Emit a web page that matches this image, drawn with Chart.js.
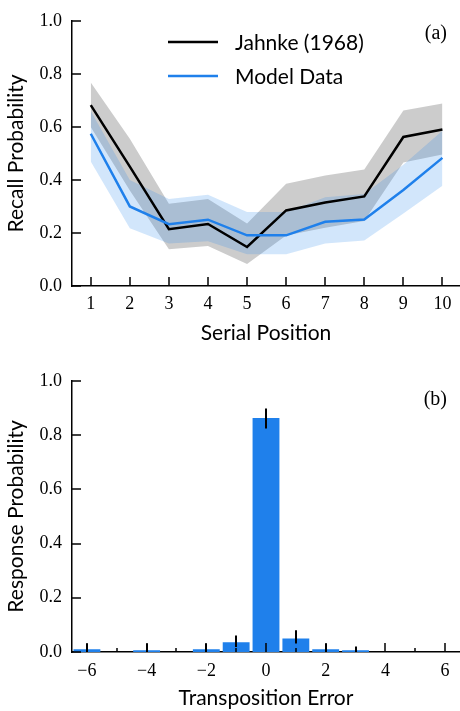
<!DOCTYPE html>
<html><head><meta charset="utf-8">
<script src="https://cdn.jsdelivr.net/npm/chart.js@4.4.0/dist/chart.umd.min.js"></script>
<style>
html,body{margin:0;padding:0;background:#fff;width:460px;height:711px;overflow:hidden;}
.box{position:absolute;left:0;width:460px;}
canvas{display:block;}
</style></head><body>
<div class="box" style="top:0;height:350px"><canvas id="c1" width="460" height="350"></canvas></div>
<div class="box" style="top:360px;height:351px"><canvas id="c2" width="460" height="351"></canvas></div>
<script>
// ---- Panel (a) data ----
const serialPositions = [1,2,3,4,5,6,7,8,9,10];
const jahnkeMean  = [0.682,0.450,0.214,0.234,0.147,0.285,0.315,0.338,0.562,0.590];
const jahnkeUpper = [0.767,0.555,0.310,0.328,0.236,0.386,0.417,0.439,0.662,0.688];
const jahnkeLower = [0.600,0.360,0.139,0.151,0.083,0.190,0.220,0.245,0.466,0.496];
const modelMean   = [0.574,0.300,0.233,0.250,0.191,0.191,0.242,0.251,0.362,0.483];
const modelUpper  = [0.660,0.400,0.328,0.344,0.279,0.279,0.335,0.347,0.457,0.585];
const modelLower  = [0.469,0.218,0.160,0.169,0.120,0.120,0.160,0.172,0.273,0.378];
const probTicks   = [0,0.2,0.4,0.6,0.8,1.0];
const legendLabels = ['Jahnke (1968)','Model Data'];

// ---- Panel (b) data ----
const transpositionErrors = [-6,-5,-4,-3,-2,-1,0,1,2,3,4,5,6];
const responseProb = [0.010,0,0.006,0,0.010,0.036,0.863,0.050,0.010,0.006,0,0,0];
const errLow       = [0,0,0,0,0,0.018,0.824,0.031,0,0,0,0,0];
const errHigh      = [0.030,0,0.030,0,0.030,0.061,0.898,0.080,0.030,0.020,0,0,0];

const BLUE = '#1f80eb';
const SERIF = 'Liberation Serif';
const SANS = 'Lato';
const SANS_SIZE = 21;
const SERIF_SIZE = 18;
const pts = arr => arr.map((y,i)=>({x: serialPositions[i], y}));
const fmtProb = v => Number(v).toFixed(1);

const inwardTicks = {
  id:'inwardTicks',
  afterDatasetsDraw(chart, args, opts){
    const ctx = chart.ctx, ca = chart.chartArea;
    ctx.save();
    ctx.strokeStyle = '#000';
    ctx.lineWidth = 1.5;
    const ys = chart.scales.y;
    ys.ticks.forEach(t=>{
      const p = Math.round(ys.getPixelForValue(t.value));
      ctx.beginPath(); ctx.moveTo(ca.left, p); ctx.lineTo(ca.left+9, p); ctx.stroke();
    });
    const xs = chart.scales.x;
    xs.ticks.forEach((t,i)=>{
      const p = Math.round(xs.getPixelForTick(i));
      const len = opts.isMajor ? (opts.isMajor(i) ? 9 : 4) : 9;
      ctx.beginPath(); ctx.moveTo(p, ca.bottom); ctx.lineTo(p, ca.bottom-len); ctx.stroke();
    });
    ctx.restore();
  }
};

const panelLabel = {
  id:'panelLabel',
  afterDraw(chart, args, opts){
    const ctx = chart.ctx;
    ctx.save();
    ctx.fillStyle = '#000';
    ctx.font = '20px "'+SERIF+'"';
    ctx.textAlign = 'right';
    ctx.textBaseline = 'alphabetic';
    ctx.fillText(opts.text, opts.x, opts.y);
    ctx.restore();
  }
};

const legendPlugin = {
  id:'customLegend',
  afterDraw(chart){
    const ctx = chart.ctx;
    ctx.save();
    const items = [{label: legendLabels[0], color:'#000', y:42, base:50},
                   {label: legendLabels[1], color:BLUE, y:76, base:84}];
    items.forEach(it=>{
      ctx.strokeStyle = it.color; ctx.lineWidth = 2.5;
      ctx.beginPath(); ctx.moveTo(168, it.y); ctx.lineTo(218, it.y); ctx.stroke();
      ctx.fillStyle = '#000';
      ctx.font = SANS_SIZE+'px "'+SANS+'"';
      ctx.textAlign = 'left'; ctx.textBaseline = 'alphabetic';
      ctx.fillText(it.label, 235, it.base);
    });
    ctx.restore();
  }
};

const errorBars = {
  id:'errorBars',
  afterDatasetsDraw(chart){
    const ctx = chart.ctx, xs = chart.scales.x, ys = chart.scales.y;
    ctx.save();
    ctx.strokeStyle = '#000'; ctx.lineWidth = 2;
    errHigh.forEach((hi,i)=>{
      if (hi <= errLow[i]) return;
      const x = Math.round(xs.getPixelForTick(i));
      ctx.beginPath(); ctx.moveTo(x, ys.getPixelForValue(errLow[i])); ctx.lineTo(x, ys.getPixelForValue(hi)); ctx.stroke();
    });
    ctx.restore();
  }
};

Chart.defaults.color = '#000';

new Chart(document.getElementById('c1'), {
  type:'line',
  data:{datasets:[
    {label:legendLabels[1], data:pts(modelMean), borderColor:BLUE, borderWidth:2.5, pointRadius:0, fill:false, tension:0},
    {label:legendLabels[0], data:pts(jahnkeMean), borderColor:'#000', borderWidth:2.5, pointRadius:0, fill:false, tension:0},
    {label:'model upper', data:pts(modelUpper), borderColor:'transparent', borderWidth:0, pointRadius:0, backgroundColor:'rgba(31,128,235,0.2)', fill:'+1'},
    {label:'model lower', data:pts(modelLower), borderColor:'transparent', borderWidth:0, pointRadius:0, fill:false},
    {label:'jahnke upper', data:pts(jahnkeUpper), borderColor:'transparent', borderWidth:0, pointRadius:0, backgroundColor:'rgba(0,0,0,0.2)', fill:'+1'},
    {label:'jahnke lower', data:pts(jahnkeLower), borderColor:'transparent', borderWidth:0, pointRadius:0, fill:false}
  ]},
  options:{
    responsive:false, animation:false, devicePixelRatio:1,
    layout:{padding:{top:14,left:0,right:0,bottom:0}},
    plugins:{legend:{display:false}, tooltip:{enabled:false}, panelLabel:{text:'(a)', x:447, y:39}},
    scales:{
      x:{type:'linear', min:0.52, max:10.45,
         afterBuildTicks:s=>{s.ticks = serialPositions.map(v=>({value:v}));},
         afterFit:s=>{s.height = 64;},
         grid:{display:false, drawTicks:false},
         border:{display:true, color:'#000', width:1.5},
         ticks:{font:{family:SERIF, size:SERIF_SIZE}, color:'#000', padding:7, maxRotation:0, autoSkip:false, callback:v=>String(v)},
         title:{display:true, text:'Serial Position', font:{family:SANS, size:SANS_SIZE}, color:'#000', padding:{top:0,bottom:4}}},
      y:{min:0, max:1,
         afterBuildTicks:s=>{s.ticks = probTicks.map(v=>({value:v}));},
         afterFit:s=>{s.width = 72;},
         grid:{display:false, drawTicks:false},
         border:{display:true, color:'#000', width:1.5},
         ticks:{font:{family:SERIF, size:SERIF_SIZE}, color:'#000', padding:10, callback:fmtProb},
         title:{display:true, text:'Recall Probability', font:{family:SANS, size:SANS_SIZE}, color:'#000', padding:{top:4,bottom:0}}}
    }
  },
  plugins:[inwardTicks, legendPlugin, panelLabel]
});

new Chart(document.getElementById('c2'), {
  type:'bar',
  data:{labels:transpositionErrors.map(v=> v<0 ? '\u2212'+Math.abs(v) : String(v)),
        datasets:[{data:responseProb, backgroundColor:BLUE, borderWidth:0, barPercentage:0.9, categoryPercentage:1}]},
  options:{
    responsive:false, animation:false, devicePixelRatio:1,
    layout:{padding:{top:19,left:0,right:0,bottom:0}},
    plugins:{legend:{display:false}, tooltip:{enabled:false}, panelLabel:{text:'(b)', x:447, y:45},
             inwardTicks:{isMajor:i=> transpositionErrors[i] % 2 === 0}},
    scales:{
      x:{type:'category',
         afterFit:s=>{s.height = 59;},
         grid:{display:false, drawTicks:false, offset:true},
         border:{display:true, color:'#000', width:1.5},
         ticks:{font:{family:SERIF, size:SERIF_SIZE}, color:'#000', padding:8, maxRotation:0, autoSkip:false,
                callback:function(v,i){ return transpositionErrors[i] % 2 === 0 ? this.getLabelForValue(v) : ''; }},
         title:{display:true, text:'Transposition Error', font:{family:SANS, size:SANS_SIZE}, color:'#000', padding:{top:0,bottom:0}}},
      y:{min:0, max:1,
         afterBuildTicks:s=>{s.ticks = probTicks.map(v=>({value:v}));},
         afterFit:s=>{s.width = 72;},
         grid:{display:false, drawTicks:false},
         border:{display:true, color:'#000', width:1.5},
         ticks:{font:{family:SERIF, size:SERIF_SIZE}, color:'#000', padding:10, callback:fmtProb},
         title:{display:true, text:'Response Probability', font:{family:SANS, size:SANS_SIZE}, color:'#000', padding:{top:4,bottom:0}}}
    }
  },
  plugins:[inwardTicks, errorBars, panelLabel]
});
</script>
</body></html>
